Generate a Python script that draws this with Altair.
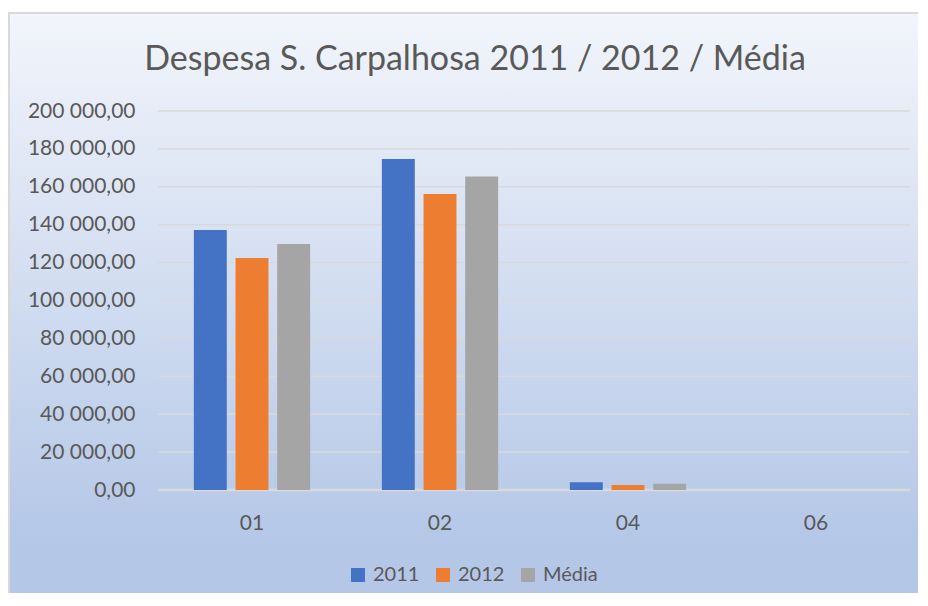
import altair as alt
import pandas as pd

TITLE = "Despesa S. Carpalhosa 2011 / 2012 / Média"
categories = ["01", "02", "04", "06"]
series = ["2011", "2012", "Média"]
values_2011 = [137200, 174700, 4060, 0]
values_2012 = [122400, 156200, 2640, 0]
values_media = [129800, 165450, 3350, 0]
y_ticks = [0, 20000, 40000, 60000, 80000, 100000, 120000, 140000, 160000, 180000, 200000]
colors = ["#4472C4", "#ED7D31", "#A5A5A5"]

rows = []
for s, vals in zip(series, [values_2011, values_2012, values_media]):
    for c, v in zip(categories, vals):
        rows.append({"cat": c, "serie": s, "valor": v})
df = pd.DataFrame(rows)

W, H = 752, 379
TXT = "#595959"
GRID = "#D9D9D9"
y_scale = alt.Scale(domain=[0, 200000], nice=False, zero=True)
y_axis = alt.Axis(title=None, values=y_ticks, format=",.2f", labelFontSize=21,
                  labelColor=TXT, labelPadding=23, ticks=False, domain=False,
                  grid=False, zindex=1)

gradient = alt.LinearGradient(
    gradient="linear", x1=0, y1=0, x2=0, y2=1,
    stops=[
        alt.GradientStop(color="#F2F5FB", offset=0),
        alt.GradientStop(color="#B4C7E7", offset=0.74),
        alt.GradientStop(color="#B4C7E7", offset=0.83),
        alt.GradientStop(color="#C7D5ED", offset=1),
    ],
)

bg = alt.Chart(pd.DataFrame({"a": [0]})).mark_rect(
    fill=gradient, stroke=GRID, strokeWidth=2, clip=False
).encode(
    x=alt.value(-149), x2=alt.value(820), y=alt.value(-98), y2=alt.value(620)
)

grid = alt.Chart(pd.DataFrame({"valor": y_ticks[1:]})).mark_rule(
    color=GRID, strokeWidth=1.5
).encode(y=alt.Y("valor:Q", scale=y_scale, axis=y_axis))

baseline = alt.Chart(pd.DataFrame({"valor": [0]})).mark_rule(
    color=GRID, strokeWidth=2.5
).encode(y=alt.Y("valor:Q", scale=y_scale, axis=y_axis))

bars = alt.Chart(df).mark_bar().encode(
    x=alt.X(
        "cat:N", sort=categories,
        scale=alt.Scale(paddingInner=0, paddingOuter=0),
        axis=alt.Axis(title=None, labelAngle=0, labelFontSize=21, labelColor=TXT,
                      labelPadding=22, ticks=False, domain=False, grid=False, zindex=1),
    ),
    xOffset=alt.XOffset("serie:N", sort=series,
                        scale=alt.Scale(paddingInner=0.21, paddingOuter=0.86)),
    y=alt.Y("valor:Q", scale=y_scale, axis=y_axis),
    color=alt.Color(
        "serie:N", sort=series,
        scale=alt.Scale(domain=series, range=colors),
        legend=alt.Legend(title=None, orient="none", legendX=190, legendY=454,
                          direction="horizontal", symbolType="square", symbolSize=196,
                          symbolStrokeWidth=0, labelFontSize=20, labelColor=TXT,
                          labelOffset=5, columnPadding=13, padding=0),
    ),
)

chart = alt.layer(bg, grid, baseline, bars).properties(
    width=W, height=H,
    autosize=alt.AutoSizeParams(type="none"),
    padding={"left": 150, "top": 103, "right": 8, "bottom": 103},
    title=alt.Title(text=TITLE, fontSize=34, fontWeight="normal", color=TXT,
                    anchor="middle", frame="group", dx=-59, offset=-92,
                    baseline="alphabetic"),
).configure(
    font="Lato",
    locale={"number": {"decimal": ",", "thousands": " ", "grouping": [3],
                       "currency": ["", " €"]}},
).configure_view(stroke=None)

chart.save("out.html", embed_options={"renderer": "svg", "actions": False})
